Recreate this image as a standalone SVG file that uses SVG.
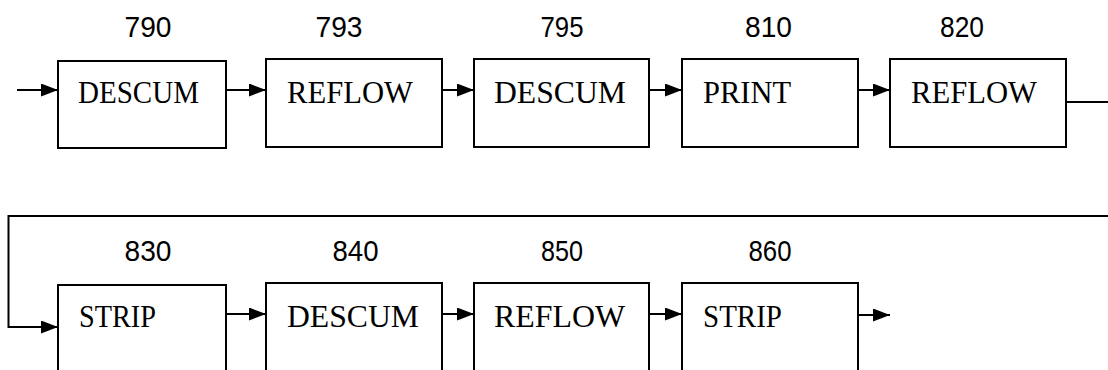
<svg xmlns="http://www.w3.org/2000/svg" width="1108" height="370" viewBox="0 0 1108 370">
<style>
.box{fill:#fff;stroke:#000;stroke-width:2}
.lbl{font-family:"Liberation Sans",Arial,sans-serif;font-size:30px;fill:#000;text-anchor:middle}
.txt{font-family:"Liberation Serif","Times New Roman",serif;font-size:31px;fill:#000}
.ln{fill:none;stroke:#000;stroke-width:2}
.arr{marker-end:url(#ah)}
</style>
<defs>
<marker id="ah" markerUnits="userSpaceOnUse" markerWidth="18" markerHeight="14" refX="17" refY="6.5" orient="auto">
<path d="M0,0 L17,6.5 L0,13 z" fill="#000"/>
</marker>
</defs>
<rect width="1108" height="370" fill="#fff"/>
<g id="connectors">
<line class="ln arr" x1="17" y1="90" x2="58" y2="90"/>
<line class="ln arr" x1="226" y1="90" x2="266" y2="90"/>
<line class="ln arr" x1="442" y1="90" x2="474" y2="90"/>
<line class="ln arr" x1="649" y1="90" x2="682" y2="90"/>
<line class="ln arr" x1="858" y1="90" x2="890" y2="90"/>
<line class="ln" x1="1066" y1="102" x2="1108" y2="102"/>
<polyline class="ln arr" points="1108,216 8.5,216 8.5,327 58,327"/>
<line class="ln arr" x1="226" y1="314" x2="266" y2="314"/>
<line class="ln arr" x1="442" y1="314" x2="474" y2="314"/>
<line class="ln arr" x1="649" y1="314" x2="682" y2="314"/>
<line class="ln arr" x1="858" y1="315" x2="890" y2="315"/>
</g>
<g id="n790">
<text class="lbl" x="148" y="37" textLength="47" lengthAdjust="spacingAndGlyphs">790</text>
<rect class="box" x="58" y="61" width="168" height="87"/>
<text class="txt" x="78" y="103" textLength="121" lengthAdjust="spacingAndGlyphs">DESCUM</text>
</g>
<g id="n793">
<text class="lbl" x="339" y="37" textLength="47" lengthAdjust="spacingAndGlyphs">793</text>
<rect class="box" x="266" y="59" width="176" height="88"/>
<text class="txt" x="287" y="103" textLength="126" lengthAdjust="spacingAndGlyphs">REFLOW</text>
</g>
<g id="n795">
<text class="lbl" x="562" y="37" textLength="43" lengthAdjust="spacingAndGlyphs">795</text>
<rect class="box" x="474" y="59" width="175" height="88"/>
<text class="txt" x="494" y="103" textLength="132" lengthAdjust="spacingAndGlyphs">DESCUM</text>
</g>
<g id="n810">
<text class="lbl" x="768.5" y="37" textLength="47" lengthAdjust="spacingAndGlyphs">810</text>
<rect class="box" x="682" y="59" width="176" height="88"/>
<text class="txt" x="703" y="103" textLength="88" lengthAdjust="spacingAndGlyphs">PRINT</text>
</g>
<g id="n820">
<text class="lbl" x="962" y="37" textLength="44" lengthAdjust="spacingAndGlyphs">820</text>
<rect class="box" x="890" y="59" width="176" height="88"/>
<text class="txt" x="911" y="103" textLength="126" lengthAdjust="spacingAndGlyphs">REFLOW</text>
</g>
<g id="n830">
<text class="lbl" x="148" y="261" textLength="47" lengthAdjust="spacingAndGlyphs">830</text>
<rect class="box" x="58" y="285" width="168" height="100"/>
<text class="txt" x="79" y="327" textLength="77" lengthAdjust="spacingAndGlyphs">STRIP</text>
</g>
<g id="n840">
<text class="lbl" x="355.5" y="261" textLength="46" lengthAdjust="spacingAndGlyphs">840</text>
<rect class="box" x="266" y="283" width="176" height="100"/>
<text class="txt" x="287" y="327" textLength="132" lengthAdjust="spacingAndGlyphs">DESCUM</text>
</g>
<g id="n850">
<text class="lbl" x="562" y="261" textLength="42" lengthAdjust="spacingAndGlyphs">850</text>
<rect class="box" x="474" y="283" width="175" height="100"/>
<text class="txt" x="494" y="327" textLength="131" lengthAdjust="spacingAndGlyphs">REFLOW</text>
</g>
<g id="n860">
<text class="lbl" x="770" y="261" textLength="43" lengthAdjust="spacingAndGlyphs">860</text>
<rect class="box" x="682" y="283" width="176" height="100"/>
<text class="txt" x="703" y="327" textLength="79" lengthAdjust="spacingAndGlyphs">STRIP</text>
</g>
</svg>
